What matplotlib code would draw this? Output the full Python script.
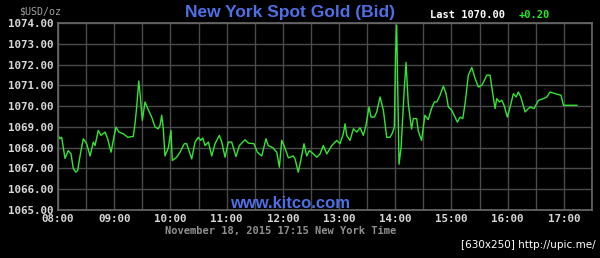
import matplotlib
matplotlib.use("Agg")
import matplotlib.pyplot as plt
from matplotlib.ticker import MultipleLocator, FuncFormatter

# minutes after 08:00
minutes = [
    0, 2.1, 3.9, 7.5, 11, 13.9, 16.3, 18.9, 21, 23.5,
    27, 30.6, 34.2, 37.7, 39.5, 43, 45.9, 50.2, 53, 56.6,
    59, 61.9, 65.1, 69.7, 74.4, 80.4, 82.2, 84, 86.2, 87.9,
    90, 92.9, 95.8, 100, 103.6, 107, 108.9, 110.7, 112.4, 114.2,
    117.8, 120.6, 122, 126.7, 130.2, 134.8,
    137.4, 142.7, 146.3, 149.8, 152.3, 154.5, 157, 160.5, 164.1, 167.6,
    172.2, 174.8, 178.3, 181.8, 185.4, 190, 193.6, 199.6, 203.2, 209.2,
    212.8, 217.5, 222, 224.5, 229.2, 233.5, 236.3, 238.8, 241.3, 245.9,
    251.2, 253, 256.5, 259.1, 262.6, 265.5, 268.3,
    272.6, 276.2, 279.7, 283.2, 286.9, 292.2, 297.5, 301, 304.6, 306.4,
    308.2, 311.7, 315.3, 318.9, 322.4, 325.9, 328.5, 332, 334.2, 337.7,
    340.2, 343.8, 347.3, 350.9, 354.4, 356.9, 359, 360.4, 361.5, 364,
    366.2, 369.7, 371.5, 373.9, 377.4, 379.3, 382.8, 384.6, 388.1, 391.6,
    395.2, 398.7, 401.7,
    404.3, 407.8, 411.3, 414.2, 416.7, 420.3, 423.8, 426.3, 429.2, 432.1,
    434.5, 438, 441.7, 445.2, 448.7, 452.3, 454.8, 457.7, 461.2, 463,
    466.5, 468.3, 471.1, 473.7, 476.1, 479.7, 482.6, 486.1, 489, 491.4,
    494, 498.6, 503.9, 508.2, 512.8, 518.1, 521.7, 525.3, 530.6, 537,
    539.5, 553.8,
]
prices = [
    1068.59, 1068.43, 1068.50, 1067.48, 1067.86, 1067.70, 1067.00, 1066.82, 1066.90, 1067.60,
    1068.43, 1068.19, 1067.60, 1068.27, 1068.10, 1068.83, 1068.59, 1068.75, 1068.43, 1067.78,
    1068.35, 1068.99, 1068.75, 1068.67, 1068.50, 1068.54, 1069.15, 1069.96, 1071.21, 1070.44,
    1069.31, 1070.20, 1069.88, 1069.47, 1068.99, 1068.91, 1069.07, 1069.56, 1068.91, 1067.60,
    1068.00, 1068.83, 1067.38, 1067.54, 1067.78, 1068.19,
    1068.19, 1067.46, 1068.27, 1068.50, 1068.35, 1068.46, 1068.10, 1068.27, 1067.60, 1068.19,
    1068.59, 1068.27, 1067.54, 1068.27, 1068.27, 1067.57, 1068.10, 1068.38, 1068.22, 1068.19,
    1067.78, 1067.60, 1068.43, 1068.10, 1068.00, 1067.78, 1067.06, 1068.35, 1068.10, 1067.51,
    1067.60, 1067.46, 1066.82, 1067.38, 1068.19, 1067.60, 1067.86,
    1067.70, 1067.54, 1067.70, 1068.10, 1067.70, 1068.10, 1068.35, 1068.19, 1068.67, 1069.15,
    1068.59, 1068.35, 1068.91, 1068.75, 1068.96, 1068.59, 1069.02, 1069.96, 1069.47, 1069.47,
    1069.72, 1070.44, 1069.80, 1068.50, 1068.50, 1068.70, 1069.00, 1072.60, 1073.90, 1067.20,
    1068.00, 1070.90, 1072.10, 1070.10, 1068.90, 1069.40, 1069.40, 1068.80, 1068.35, 1069.56,
    1069.35, 1069.88, 1070.20,
    1070.20, 1070.52, 1070.96, 1070.60, 1069.96, 1069.80, 1069.47, 1069.23, 1069.47, 1069.40,
    1070.12, 1071.49, 1071.86, 1071.33, 1070.92, 1071.00, 1071.21, 1071.49, 1071.49, 1070.92,
    1069.88, 1070.36, 1070.20, 1070.28, 1070.04, 1069.47, 1069.96, 1070.60, 1070.44, 1070.68,
    1070.44, 1069.72, 1069.96, 1069.88, 1070.28, 1070.36, 1070.44, 1070.68, 1070.60, 1070.52,
    1070.04, 1070.04,
]

hour_labels = ["08:00", "09:00", "10:00", "11:00", "12:00", "13:00", "14:00", "15:00",
               "16:00", "17:00"]
y_min, y_max = 1065, 1074

title = "New York Spot Gold (Bid)"
last_text = "Last 1070.00"
change_text = "+0.20"
footer = "November 18, 2015 17:15 New York Time"
unit = "$USD/oz"
site = "www.kitco.com"
watermark = "[630x250] http://upic.me/"

n = min(len(minutes), len(prices))

fig = plt.figure(figsize=(6.0, 2.58), dpi=100, facecolor="black")
ax = fig.add_axes([58 / 600, 1 - 210 / 258, (592 - 58) / 600, (210 - 23) / 258])
ax.set_facecolor("black")

ax.plot(minutes[:n], prices[:n], color="#33e633", linewidth=1.0)

ax.set_xlim(0, 570)
ax.set_ylim(y_min, y_max)
ax.xaxis.set_major_locator(MultipleLocator(60))
ax.xaxis.set_minor_locator(MultipleLocator(30))
ax.yaxis.set_major_locator(MultipleLocator(1))
ax.xaxis.set_major_formatter(FuncFormatter(
    lambda v, p: hour_labels[int(round(v / 60))] if 0 <= int(round(v / 60)) < len(hour_labels) else ""))
ax.yaxis.set_major_formatter(FuncFormatter(lambda v, p: f"{v:.2f}"))

ax.grid(True, which="both", color="#4a4a4a", linewidth=1.0)
ax.set_axisbelow(True)
for s in ax.spines.values():
    s.set_color("#6a6a6a")
    s.set_linewidth(1.2)
ax.tick_params(which="both", length=0, colors="#d8d8d8", pad=3)
for lbl in ax.get_xticklabels() + ax.get_yticklabels():
    lbl.set_family("DejaVu Sans Mono")
    lbl.set_fontweight("bold")
    lbl.set_fontsize(7.8)
    lbl.set_color("#d8d8d8")

fig.text(40 / 600, 1 - 11 / 258, unit, color="#a0a0a0", fontsize=7.2,
         family="DejaVu Sans Mono", ha="center", va="center")
fig.text(290 / 600, 1 - 12 / 258, title, color="#4f6fe6", fontsize=12.5,
         family="Liberation Sans", fontweight="bold", ha="center", va="center")
fig.text(468 / 600, 1 - 15 / 258, last_text, color="white", fontsize=7.5,
         family="DejaVu Sans Mono", fontweight="bold", ha="center", va="center")
fig.text(534 / 600, 1 - 15 / 258, change_text, color="#22ee22", fontsize=7.5,
         family="DejaVu Sans Mono", fontweight="bold", ha="center", va="center")
fig.text(281 / 600, 1 - 231 / 258, footer, color="#909090", fontsize=7.5,
         family="DejaVu Sans Mono", fontweight="bold", ha="center", va="center")
fig.text(290 / 600, 1 - 203 / 258, site, color="#4f6fe6", fontsize=12,
         family="Liberation Sans", fontweight="bold", ha="center", va="center")
fig.text(596 / 600, 1 - 245 / 258, watermark, color="white", fontsize=7.5,
         family="DejaVu Sans", ha="right", va="center")

fig.savefig("out.png", dpi=100, facecolor="black")
